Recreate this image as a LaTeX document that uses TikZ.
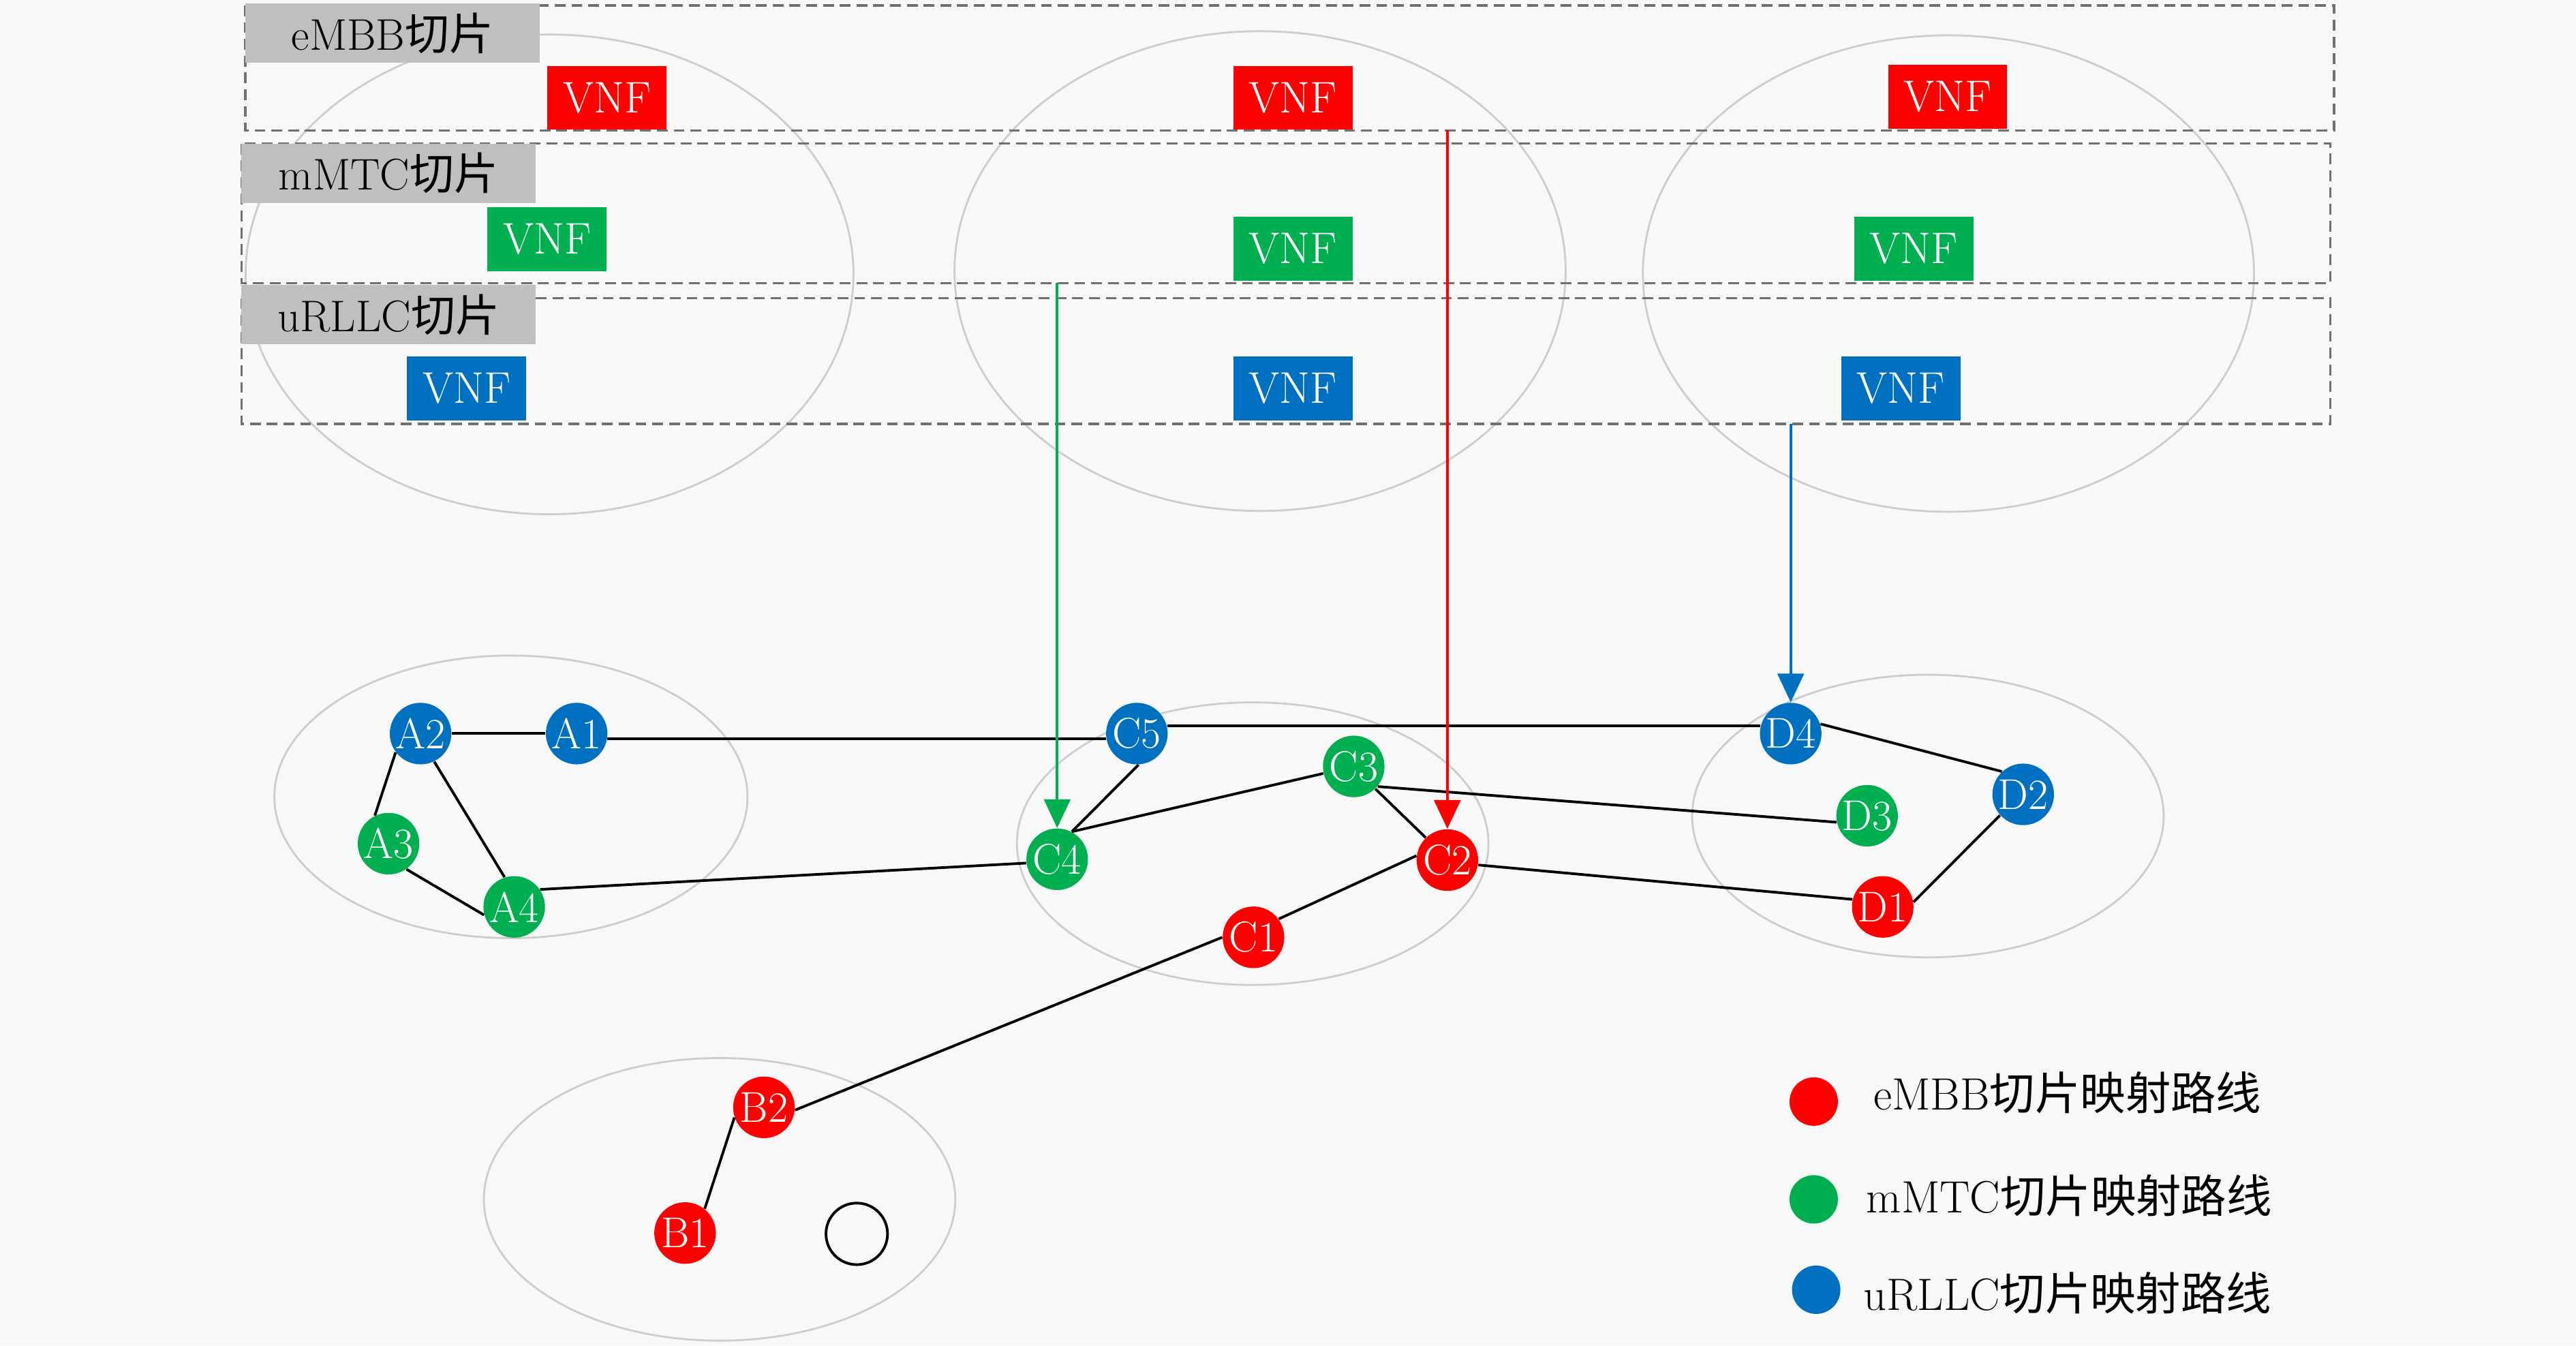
\documentclass[tikz,border=0pt]{standalone}
\usepackage{fontspec}
\newfontfamily\cjk{Noto Sans CJK SC}
\usetikzlibrary{arrows.meta}
\definecolor{bg}{RGB}{248,248,248}
\definecolor{myred}{RGB}{255,0,0}
\definecolor{mygreen}{RGB}{0,176,80}
\definecolor{myblue}{RGB}{0,112,192}
\definecolor{ringgray}{RGB}{205,205,205}
\definecolor{dashgray}{RGB}{112,112,112}
\definecolor{labelgray}{RGB}{191,191,191}
\begin{document}
\begin{tikzpicture}[x=0.024107cm,y=-0.024107cm,
  ring/.style={draw=ringgray,line width=0.8pt},
  slicebox/.style={draw=dashgray,line width=1pt,dash pattern=on 4.5pt off 2.5pt},
  slicelabel/.style={fill=labelgray,minimum width=122.8pt,minimum height=24.7pt,inner sep=0pt,font=\fontsize{18.5}{20}\selectfont},
  vnf/.style={minimum width=49.7pt,minimum height=26.7pt,inner sep=0pt,text=white,font=\fontsize{18.5}{20}\selectfont},
  pnode/.style={circle,minimum size=25.7pt,inner sep=0pt,text=white,font=\fontsize{18}{20}\selectfont},
  link/.style={black,line width=1.1pt},
  maparrow/.style={line width=1.1pt,-{Triangle[width=11pt,length=12pt]}},
  legdot/.style={circle,minimum size=20.2pt,inner sep=0pt},
  legtext/.style={font=\fontsize{18.9}{20}\selectfont}]
\useasboundingbox (0,0) rectangle (1568,819);
\fill[bg] (0,0) rectangle (1568,819);

% upper server ellipses
\draw[ring] (334.5,167) ellipse [x radius=185, y radius=146];
\draw[ring] (767,165) ellipse [x radius=186, y radius=146];
\draw[ring] (1186,166.5) ellipse [x radius=186, y radius=145];

% slice boxes
\draw[slicebox] (149.4,3.3) rectangle (1420.8,79.4);
\draw[slicebox] (147,87.4) rectangle (1418.5,172.3);
\draw[slicebox] (147,181.5) rectangle (1418.5,258);

\node[slicelabel] (lbE) at (239,20.2) {eMBB{\cjk 切片}};
\node[slicelabel] (lbM) at (236.5,105.5) {mMTC{\cjk 切片}};
\node[slicelabel] (lbU) at (236.5,191.5) {uRLLC{\cjk 切片}};

% VNF boxes
\node[vnf,fill=myred] (v11) at (369.5,59.5) {VNF};
\node[vnf,fill=myred] (v12) at (787,59.5) {VNF};
\node[vnf,fill=myred] (v13) at (1185.5,59) {VNF};
\node[vnf,fill=mygreen] (v21) at (333,145.5) {VNF};
\node[vnf,fill=mygreen] (v22) at (787,151.5) {VNF};
\node[vnf,fill=mygreen] (v23) at (1165,151.5) {VNF};
\node[vnf,fill=myblue] (v31) at (284,236.5) {VNF};
\node[vnf,fill=myblue] (v32) at (787,236.5) {VNF};
\node[vnf,fill=myblue] (v33) at (1157,236.5) {VNF};

% lower domain ellipses
\draw[ring] (311,485) ellipse [x radius=144, y radius=86];
\draw[ring] (762.5,513.5) ellipse [x radius=143.5, y radius=86];
\draw[ring] (1173.5,496.7) ellipse [x radius=143.5, y radius=86];
\draw[ring] (438,730) ellipse [x radius=143.5, y radius=86];

% physical nodes
\node[pnode,fill=myblue] (A1) at (351,446.5) {A1};
\node[pnode,fill=myblue] (A2) at (256,446.5) {A2};
\node[pnode,fill=mygreen] (A3) at (236.5,513.5) {A3};
\node[pnode,fill=mygreen] (A4) at (313,552) {A4};
\node[pnode,fill=myred] (B1) at (417,750.5) {B1};
\node[pnode,fill=myred] (B2) at (465,674) {B2};
\node[pnode,draw=black,line width=1.1pt] (B0) at (521.5,751) {};
\node[pnode,fill=myred] (C1) at (763,570.5) {C1};
\node[pnode,fill=myred] (C2) at (881,523.5) {C2};
\node[pnode,fill=mygreen] (C3) at (824,466.5) {C3};
\node[pnode,fill=mygreen] (C4) at (643.5,523) {C4};
\node[pnode,fill=myblue] (C5) at (692,446.5) {C5};
\node[pnode,fill=myred] (D1) at (1146,552) {D1};
\node[pnode,fill=myblue] (D2) at (1231.5,483.5) {D2};
\node[pnode,fill=mygreen] (D3) at (1136.5,496.5) {D3};
\node[pnode,fill=myblue] (D4) at (1090,446.5) {D4};

% links
\draw[link] (A2) -- (A1);
\draw[link] (A1.-10) -- (C5.190);
\draw[link] (C5.14) -- (D4.166);
\draw[link] (C5.-87) -- (C4.62);
\draw[link] (C4.62) -- (C3.193);
\draw[link] (A4.34) -- (C4.187);
\draw[link] (A2.217) -- (A3.116);
\draw[link] (A2.-64) -- (A4.108);
\draw[link] (A3.-55) -- (A4.195);
\draw[link] (C3.-46) -- (C2.134);
\draw[link] (C3.-40) -- (D3.192);
\draw[link] (C2.-9) -- (D1.166);
\draw[link] (C2.172) -- (C1.36);
\draw[link] (C1.180) -- (B2.-5);
\draw[link] (B2.199) -- (B1.51);
\draw[link] (D4.18) -- (D2.133);
\draw[link] (D2.222) -- (D1.9);

% mapping arrows
\coordinate (gs) at (643.5,172.3);
\coordinate (rs) at (881,79.4);
\coordinate (bs) at (1090,258);
\draw[maparrow,mygreen] (gs) -- (C4.north);
\draw[maparrow,myred] (rs) -- (C2.north);
\draw[maparrow,myblue] (bs) -- (D4.north);

% legend
\node[legdot,fill=myred] (L1) at (1104,670.5) {};
\node[legdot,fill=mygreen] (L2) at (1104,730) {};
\node[legdot,fill=myblue] (L3) at (1105.5,785) {};
\node[legtext] (T1) at (1258.5,665) {eMBB{\cjk 切片映射路线}};
\node[legtext] (T2) at (1259.5,727.6) {mMTC{\cjk 切片映射路线}};
\node[legtext] (T3) at (1258.5,787) {uRLLC{\cjk 切片映射路线}};
\end{tikzpicture}
\end{document}
